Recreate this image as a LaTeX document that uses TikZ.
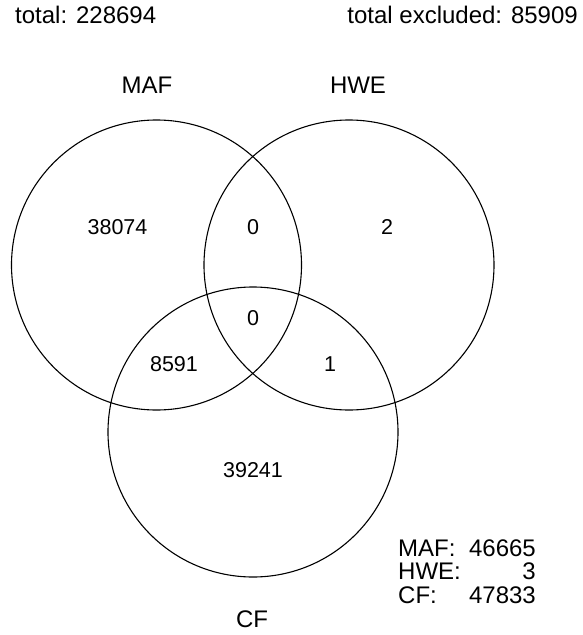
\documentclass[tikz,border=0pt]{standalone}
\usepackage{fontspec}
\setmainfont{Liberation Sans}
\begin{document}
\begin{tikzpicture}[x=1pt,y=-1pt,
  setcircle/.style={draw,circle,line width=1.1pt,minimum size=290pt,inner sep=0pt},
  count/.style={inner sep=0pt,font=\fontsize{21.5}{24}\selectfont},
  setlabel/.style={inner sep=0pt,font=\fontsize{24}{28}\selectfont},
  toptext/.style={inner sep=0pt,font=\fontsize{24}{28}\selectfont},
  legend/.style={inner sep=0pt,font=\fontsize{24}{28}\selectfont}]
\useasboundingbox (0,0) rectangle (582,635);

% the three sets
\node[setcircle] (maf) at (156.5,265) {};
\node[setcircle] (hwe) at (349,265) {};
\node[setcircle] (cf)  at (253,432) {};

% set names
\node[setlabel] (lmaf) at (147,85) {MAF};
\node[setlabel] (lhwe) at (358,85) {HWE};
\node[setlabel] (lcf)  at (252,619) {CF};

% totals
\node[toptext,anchor=west] (tot) at (15,15) {total: 228694};
\node[toptext,anchor=east] (exc) at (578,15) {total excluded: 85909};

% region counts
\node[count] (r1)   at (117.5,227) {38074};
\node[count] (r12)  at (253,227) {0};
\node[count] (r2)   at (387,227) {2};
\node[count] (r123) at (253,318) {0};
\node[count] (r13)  at (174,364) {8591};
\node[count] (r23)  at (330,364) {1};
\node[count] (r3)   at (253,470) {39241};

% per-set exclusion summary
\node[legend,anchor=west] (kmaf) at (398,548) {MAF:};
\node[legend,anchor=east] (vmaf) at (536,548) {46665};
\node[legend,anchor=west] (khwe) at (398,571) {HWE:};
\node[legend,anchor=east] (vhwe) at (536,571) {3};
\node[legend,anchor=west] (kcf)  at (398,595) {CF:};
\node[legend,anchor=east] (vcf)  at (536,595) {47833};
\end{tikzpicture}
\end{document}
